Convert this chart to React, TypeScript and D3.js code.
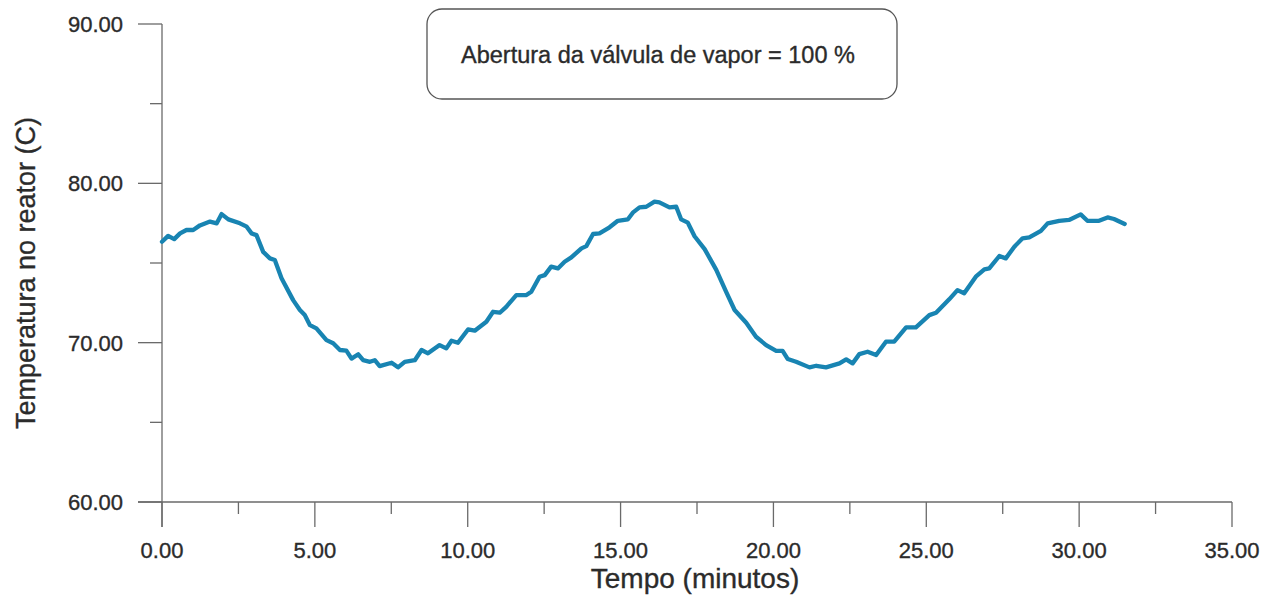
import React from "react";
import * as d3 from "d3";

const timeMin = [0, 0.2, 0.4, 0.59, 0.8, 1.02, 1.24, 1.57, 1.79, 1.95, 2.17, 2.55, 2.77, 2.93, 3.09, 3.31, 3.53, 3.69, 3.91, 4.29, 4.51, 4.67, 4.84, 5.05, 5.38, 5.6, 5.82, 6.03, 6.2, 6.42, 6.58, 6.8, 6.96, 7.12, 7.51, 7.72, 7.94, 8.27, 8.49, 8.7, 9.08, 9.3, 9.47, 9.68, 10.01, 10.23, 10.61, 10.83, 11.05, 11.26, 11.59, 11.92, 12.08, 12.35, 12.52, 12.73, 12.95, 13.17, 13.39, 13.72, 13.88, 14.1, 14.31, 14.64, 14.91, 15.24, 15.4, 15.62, 15.84, 16.11, 16.27, 16.6, 16.82, 16.98, 17.2, 17.42, 17.75, 18.13, 18.45, 18.73, 19.11, 19.43, 19.76, 20.09, 20.3, 20.47, 20.74, 21.18, 21.4, 21.72, 22.16, 22.38, 22.59, 22.81, 23.08, 23.36, 23.68, 23.95, 24.34, 24.66, 25.1, 25.32, 25.75, 26.02, 26.24, 26.62, 26.9, 27.06, 27.39, 27.6, 27.88, 28.15, 28.37, 28.75, 28.97, 29.35, 29.67, 30.05, 30.27, 30.65, 30.93, 31.14, 31.49];
const tempC = [76.33, 76.7, 76.5, 76.86, 77.07, 77.07, 77.36, 77.6, 77.49, 78.07, 77.74, 77.49, 77.28, 76.86, 76.75, 75.7, 75.29, 75.19, 74.04, 72.67, 72.05, 71.73, 71.1, 70.9, 70.16, 69.96, 69.54, 69.5, 69.0, 69.27, 68.9, 68.8, 68.9, 68.53, 68.74, 68.45, 68.8, 68.9, 69.54, 69.33, 69.85, 69.64, 70.12, 69.99, 70.83, 70.75, 71.31, 71.94, 71.88, 72.25, 72.99, 72.99, 73.2, 74.14, 74.24, 74.77, 74.66, 75.08, 75.35, 75.92, 76.06, 76.82, 76.86, 77.24, 77.65, 77.74, 78.16, 78.49, 78.53, 78.85, 78.81, 78.49, 78.53, 77.74, 77.53, 76.68, 75.87, 74.57, 73.2, 72.05, 71.25, 70.37, 69.85, 69.49, 69.49, 68.97, 68.8, 68.45, 68.55, 68.45, 68.7, 68.95, 68.7, 69.28, 69.43, 69.22, 70.06, 70.06, 70.96, 70.96, 71.73, 71.88, 72.72, 73.3, 73.1, 74.14, 74.6, 74.66, 75.44, 75.29, 76.02, 76.55, 76.61, 77.02, 77.49, 77.65, 77.7, 78.05, 77.65, 77.65, 77.86, 77.76, 77.45];

const xMajorTicks = [0, 5, 10, 15, 20, 25, 30, 35];
const xMinorTicks = [2.5, 7.5, 12.5, 17.5, 22.5, 27.5, 32.5];
const yMajorTicks = [60, 70, 80, 90];
const yMinorTicks = [65, 75, 85];

const xTitle = "Tempo (minutos)";
const yTitle = "Temperatura no reator (C)";
const boxText = "Abertura da válvula de vapor = 100 %";

const W = 1277;
const H = 596;
const left = 162;
const right = 1232;
const top = 24;
const bottom = 502;

export default function App() {
  const x = d3.scaleLinear().domain([0, 35]).range([left, right]);
  const y = d3.scaleLinear().domain([60, 90]).range([bottom, top]);
  const pts: [number, number][] = timeMin.map((t, i) => [t, tempC[i]]);
  const line = d3
    .line<[number, number]>()
    .x((d) => x(d[0]))
    .y((d) => y(d[1]));
  const axisColor = "#6a6a6a";
  const textColor = "#2b2b2b";
  const font = "'Liberation Sans', Arial, sans-serif";
  const textStroke = { stroke: textColor, strokeWidth: 0.35 };
  return (
    <svg
      width={W}
      height={H}
      style={{ position: "absolute", left: 0, top: 0, background: "#fff" }}
      fontFamily={font}
    >
      <line x1={x(0)} x2={x(0)} y1={y(90)} y2={bottom + 25} stroke={axisColor} strokeWidth={1.3} />
      <line x1={left - 24} x2={x(35)} y1={bottom} y2={bottom} stroke={axisColor} strokeWidth={1.3} />
      {yMajorTicks.map((v) => (
        <g key={"ym" + v}>
          <line x1={left - 24} x2={left} y1={y(v)} y2={y(v)} stroke={axisColor} strokeWidth={1.3} />
          <text x={123} y={y(v)} dy="0.36em" textAnchor="end" fontSize={22} fill={textColor} {...textStroke}>
            {v.toFixed(2)}
          </text>
        </g>
      ))}
      {yMinorTicks.map((v) => (
        <line key={"yn" + v} x1={left - 12} x2={left} y1={y(v)} y2={y(v)} stroke={axisColor} strokeWidth={1.3} />
      ))}
      {xMajorTicks.map((v) => (
        <g key={"xm" + v}>
          <line x1={x(v)} x2={x(v)} y1={bottom} y2={bottom + 25} stroke={axisColor} strokeWidth={1.3} />
          <text x={x(v)} y={558} textAnchor="middle" fontSize={22} fill={textColor} {...textStroke}>
            {v.toFixed(2)}
          </text>
        </g>
      ))}
      {xMinorTicks.map((v) => (
        <line key={"xn" + v} x1={x(v)} x2={x(v)} y1={bottom} y2={bottom + 12} stroke={axisColor} strokeWidth={1.3} />
      ))}
      <text x={695} y={588} textAnchor="middle" fontSize={28} fill={textColor} {...textStroke}>
        {xTitle}
      </text>
      <text
        transform={`translate(35, 273) rotate(-90)`}
        textAnchor="middle"
        fontSize={27}
        fill={textColor}
        {...textStroke}
      >
        {yTitle}
      </text>
      <rect x={427} y={9} width={470} height={90} rx={15} ry={15} fill="#fff" stroke="#555" strokeWidth={1.3} />
      <text x={658} y={63} textAnchor="middle" fontSize={23.5} fill={textColor} {...textStroke}>
        {boxText}
      </text>
      <path d={line(pts) || ""} fill="none" stroke="#1884b2" strokeWidth={4.3} strokeLinejoin="round" strokeLinecap="round" />
    </svg>
  );
}
